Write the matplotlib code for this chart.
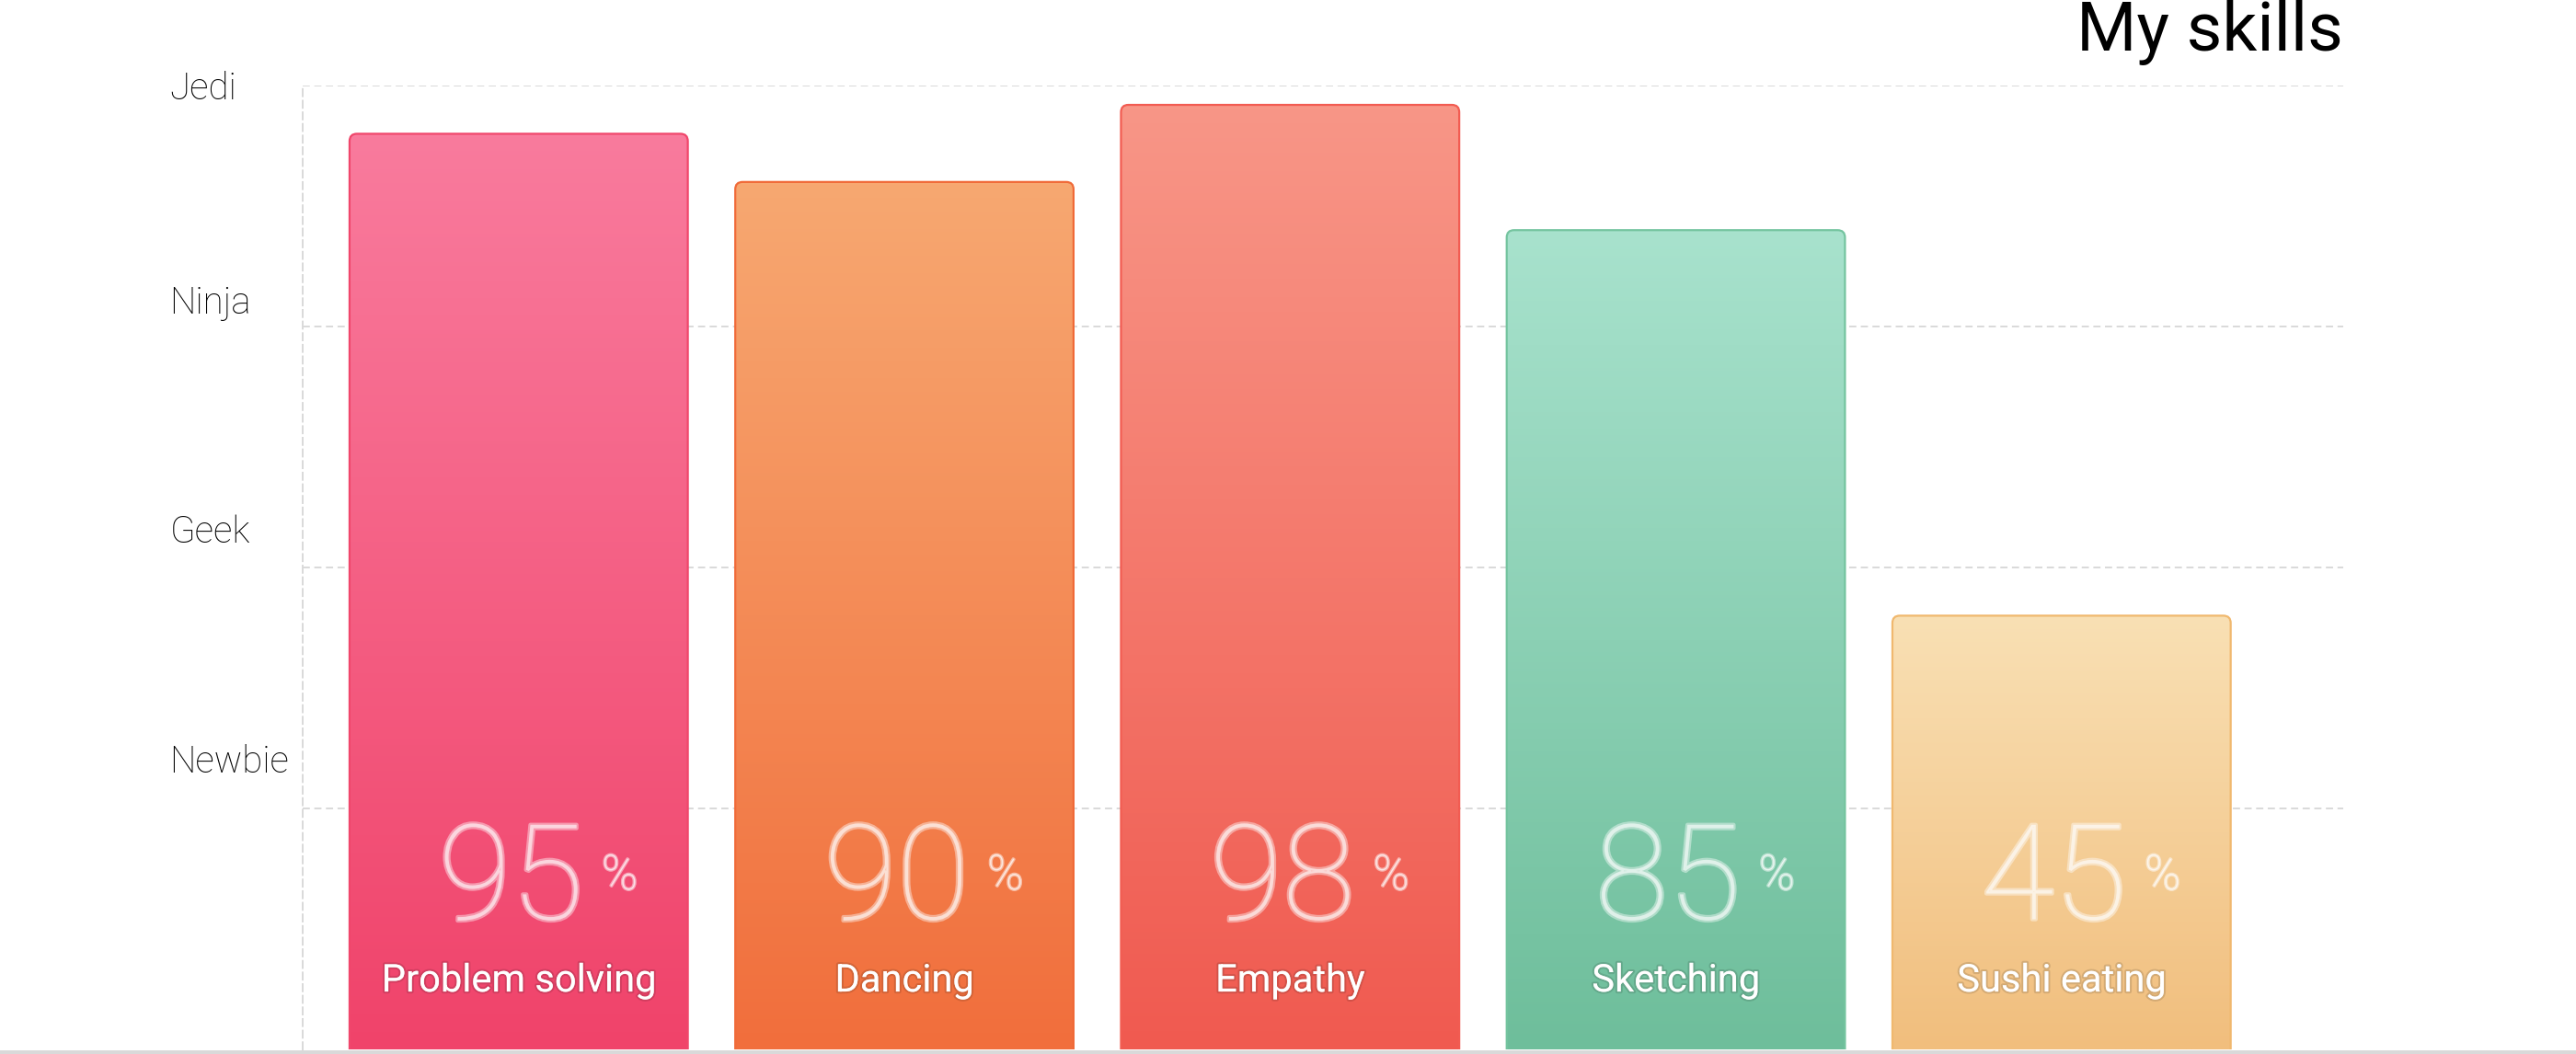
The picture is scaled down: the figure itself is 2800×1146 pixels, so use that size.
import numpy as np
import matplotlib
matplotlib.use("Agg")
import matplotlib.pyplot as plt
from matplotlib.patches import FancyBboxPatch, Rectangle
from matplotlib.colors import LinearSegmentedColormap
import matplotlib.patheffects as pe

skills = ["Problem solving", "Dancing", "Empathy", "Sketching", "Sushi eating"]
scores = [95, 90, 98, 85, 45]
top_colors = ["#F97B9D", "#F7A871", "#F89687", "#A8E2CD", "#F9E0B4"]
bottom_colors = ["#F0436A", "#F16E3C", "#F05A50", "#6EBE9B", "#F1BE7D"]
edge_colors = ["#F0466B", "#F06A38", "#F25C52", "#74C49F", "#F0B86E"]
level_names = ["Newbie", "Geek", "Ninja", "Jedi"]
level_pos = [30.2, 54.0, 77.8, 100]
grid_pos = [25, 50, 75, 100]

FONT = "Roboto"
fig = plt.figure(figsize=(28, 11.46), dpi=100)
ax = fig.add_axes([0.1175, 0.0044, 0.7921, 0.9144])

xmin, xmax = -0.56, 4.73
ymin, ymax = 0, 100
width = 0.877
# pixel size of one x unit vs one y unit, for round corners
px_x = 0.7921 * 2800 / (xmax - xmin)
px_y = 0.9144 * 1146 / (ymax - ymin)
aspect = px_x / px_y
r = 8 / px_x

for yv in grid_pos:
    ax.plot([xmin, xmax], [yv, yv], color="#D9D9D9", lw=1.4,
            linestyle=(0, (4, 2.5)), zorder=0)

for i, (name, val) in enumerate(zip(skills, scores)):
    x0 = i - width / 2
    box = FancyBboxPatch((x0, -5), width, val + 5,
                         boxstyle="round,pad=0,rounding_size=%f" % r,
                         mutation_aspect=aspect, facecolor="none",
                         edgecolor=edge_colors[i], lw=1.6, zorder=3)
    ax.add_patch(box)
    cmap = LinearSegmentedColormap.from_list("g%d" % i, [bottom_colors[i], top_colors[i]])
    grad = np.linspace(0, 1, 256).reshape(-1, 1)
    im = ax.imshow(grad, extent=(x0, x0 + width, 0, val), origin="lower",
                   aspect="auto", cmap=cmap, zorder=2)
    im.set_clip_path(box)

    ax.text(i - 0.02, 13.5, str(val), ha="center", va="baseline",
            fontsize=104, family=FONT, fontweight="light", color="white",
            alpha=0.33, zorder=4,
            path_effects=[pe.Stroke(linewidth=3.2, foreground="white", alpha=0.42),
                          pe.Normal()])
    ax.text(i + 0.215, 16.6, "%", ha="left", va="baseline",
            fontsize=38, family=FONT, fontweight="light", color="white",
            alpha=0.35, zorder=4,
            path_effects=[pe.Stroke(linewidth=2, foreground="white", alpha=0.5),
                          pe.Normal()])
    ax.text(i, 6.0, name, ha="center", va="baseline", fontsize=30,
            family=FONT, color="white", zorder=5,
            path_effects=[pe.Stroke(linewidth=3, foreground=(0, 0, 0, 0.12)),
                          pe.Normal()])

ax.set_xlim(xmin, xmax)
ax.set_ylim(ymin, ymax)
ax.set_xticks([])
ax.set_yticks(level_pos)
ax.set_yticklabels(level_names, family=FONT, fontweight="light", fontsize=29, color="black")
ax.tick_params(axis="y", length=0, pad=104)
for lab in ax.get_yticklabels():
    lab.set_horizontalalignment("left")
for s in ["top", "right", "bottom"]:
    ax.spines[s].set_visible(False)
ax.spines["left"].set_color("#D9D9D9")
ax.spines["left"].set_linewidth(1.4)
ax.spines["left"].set_linestyle((0, (4, 2.5)))
ax.patch.set_alpha(0)

fig.text(0.9096, 0.952, "My skills", ha="right", va="baseline",
         fontsize=54, family=FONT, color="black")
fig.patches.append(Rectangle((0, 0), 1, 0.0035, transform=fig.transFigure,
                             facecolor="#D9D9D9", edgecolor="none", zorder=10))

fig.savefig("out.png", dpi=100)
